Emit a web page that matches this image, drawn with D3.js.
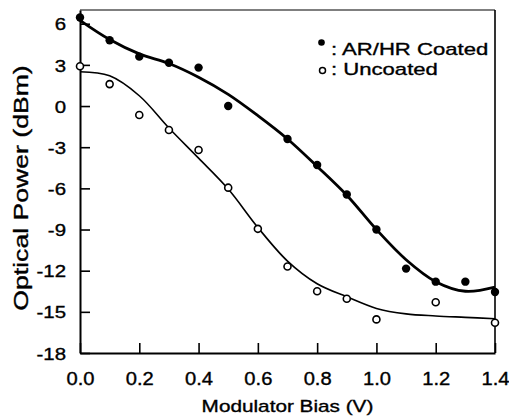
<!DOCTYPE html>
<html>
<head>
<meta charset="utf-8">
<script src="https://cdn.jsdelivr.net/npm/d3@7"></script>
<style>
  body { margin: 0; background: #fff; }
  text { font-family: "Liberation Sans", Arial, Helvetica, sans-serif; fill: #000; stroke: #000; stroke-width: 0.35px; }
</style>
</head>
<body>
<div id="chart"></div>
<script>
// measured points
var biasAR  = [0, 0.1, 0.2, 0.3, 0.4, 0.5, 0.7, 0.8, 0.9, 1.0, 1.1, 1.2, 1.3, 1.4];
var powerAR = [6.45, 4.8, 3.6, 3.15, 2.8, 0.0, -2.4, -4.3, -6.45, -9.0, -11.85, -12.8, -12.8, -13.55];

var biasUn  = [0, 0.1, 0.2, 0.3, 0.4, 0.5, 0.6, 0.7, 0.8, 0.9, 1.0, 1.2, 1.4];
var powerUn = [2.9, 1.6, -0.65, -1.75, -3.2, -5.95, -8.95, -11.7, -13.5, -14.05, -15.55, -14.3, -15.8];

// fitted curves
var fitBias = [0, 0.1, 0.2, 0.3, 0.4, 0.5, 0.6, 0.7, 0.8, 0.9, 1.0, 1.1, 1.2, 1.3, 1.4];
var fitAR   = [6.25, 4.85, 3.8, 3.1, 2.1, 0.85, -0.7, -2.4, -4.4, -6.5, -9.0, -11.2, -12.8, -13.5, -13.2];
var fitUn   = [2.5, 2.2, 0.75, -1.6, -3.8, -6.05, -8.85, -11.3, -12.95, -13.9, -14.75, -15.15, -15.3, -15.4, -15.5];

var xTicks = [0, 0.2, 0.4, 0.6, 0.8, 1.0, 1.2, 1.4];
var yTicks = [-18, -15, -12, -9, -6, -3, 0, 3, 6];
var legendLabels = [": AR/HR Coated", ": Uncoated"];

var svgWidth = 509, svgHeight = 417;
var margin = {top: 10, right: 14, bottom: 64, left: 80};
var width = svgWidth - margin.left - margin.right;
var height = svgHeight - margin.top - margin.bottom;

var svg = d3.select("#chart").append("svg")
    .attr("width", svgWidth)
    .attr("height", svgHeight);

var chartGroup = svg.append("g")
    .attr("transform", `translate(${margin.left}, ${margin.top})`);

var xScale = d3.scaleLinear().domain([0, 1.4]).range([0, width]);
var yScale = d3.scaleLinear().domain([-18, 7]).range([height, 0]);

// stretch text along its run, the scan is wide
function stretch(sel, k) {
  sel.each(function() {
    var len = this.getComputedTextLength();
    d3.select(this).attr("textLength", len * k).attr("lengthAdjust", "spacingAndGlyphs");
  });
}

// frame: top and right
chartGroup.append("line")
    .attr("x1", 0).attr("x2", width).attr("y1", 0).attr("y2", 0)
    .attr("stroke", "#000").attr("stroke-width", 1.2);
chartGroup.append("line")
    .attr("x1", width).attr("x2", width).attr("y1", 0).attr("y2", height)
    .attr("stroke", "#000").attr("stroke-width", 1.6);

// axes
var bottomAxis = d3.axisBottom(xScale)
    .tickValues(xTicks)
    .tickFormat(d3.format(".1f"))
    .tickSizeInner(-10).tickSizeOuter(0).tickPadding(20);
var leftAxis = d3.axisLeft(yScale)
    .tickValues(yTicks)
    .tickFormat(d => d)
    .tickSizeInner(-10).tickSizeOuter(0).tickPadding(14);

var xAxis = chartGroup.append("g")
    .attr("transform", `translate(0, ${height})`)
    .call(bottomAxis);
var yAxis = chartGroup.append("g")
    .call(leftAxis);

[xAxis, yAxis].forEach(function(ax) {
  ax.select(".domain").attr("stroke", "#000").attr("stroke-width", 2);
  ax.selectAll(".tick line").attr("stroke", "#000").attr("stroke-width", 1.6);
  ax.selectAll("text").style("font-size", "18px").attr("fill", "#000");
});
xAxis.selectAll("text").attr("dy", "0.71em").attr("y", 19);
yAxis.selectAll("text").style("font-size", "17px").attr("dy", "0.36em");
stretch(xAxis.selectAll("text"), 1.12);
stretch(yAxis.selectAll("text"), 1.2);

// fitted lines
var line = d3.line()
    .x(d => xScale(d[0]))
    .y(d => yScale(d[1]))
    .curve(d3.curveCatmullRom.alpha(0.5));

chartGroup.append("path")
    .datum(fitBias.map((b, i) => [b, fitAR[i]]))
    .attr("d", line)
    .attr("fill", "none").attr("stroke", "#000").attr("stroke-width", 2.8);

chartGroup.append("path")
    .datum(fitBias.map((b, i) => [b, fitUn[i]]))
    .attr("d", line)
    .attr("fill", "none").attr("stroke", "#000").attr("stroke-width", 1.6);

// points
chartGroup.append("g").selectAll("circle")
    .data(biasAR.map((b, i) => [b, powerAR[i]]))
    .enter()
    .append("circle")
    .attr("cx", d => xScale(d[0]))
    .attr("cy", d => yScale(d[1]))
    .attr("r", 4.2)
    .attr("fill", "#000");

chartGroup.append("g").selectAll("circle")
    .data(biasUn.map((b, i) => [b, powerUn[i]]))
    .enter()
    .append("circle")
    .attr("cx", d => xScale(d[0]))
    .attr("cy", d => yScale(d[1]))
    .attr("r", 3.5)
    .attr("fill", "#fff")
    .attr("stroke", "#000")
    .attr("stroke-width", 1.6);

// legend
var legend = svg.append("g");
legend.append("circle")
    .attr("cx", 321.5).attr("cy", 42.5).attr("r", 3.3).attr("fill", "#000");
legend.append("circle")
    .attr("cx", 322.5).attr("cy", 70.5).attr("r", 3).attr("fill", "#fff")
    .attr("stroke", "#000").attr("stroke-width", 1.5);
var legendText = legend.selectAll("text.leg")
    .data(legendLabels)
    .enter()
    .append("text")
    .attr("class", "leg")
    .attr("x", 331)
    .attr("y", (d, i) => 55 + i * 20)
    .style("font-size", "17px")
    .text(d => d);
stretch(legendText, 1.3);

// axis titles
var xTitle = svg.append("text")
    .attr("x", margin.left + width / 2)
    .attr("y", 411.5)
    .attr("text-anchor", "middle")
    .style("font-size", "17px")
    .text("Modulator Bias (V)");
stretch(xTitle, 1.22);

var yTitle = svg.append("text")
    .attr("transform", "translate(28, 188) rotate(-90)")
    .attr("text-anchor", "middle")
    .style("font-size", "20px")
    .text("Optical Power (dBm)");
stretch(yTitle, 1.33);
</script>
</body>
</html>
